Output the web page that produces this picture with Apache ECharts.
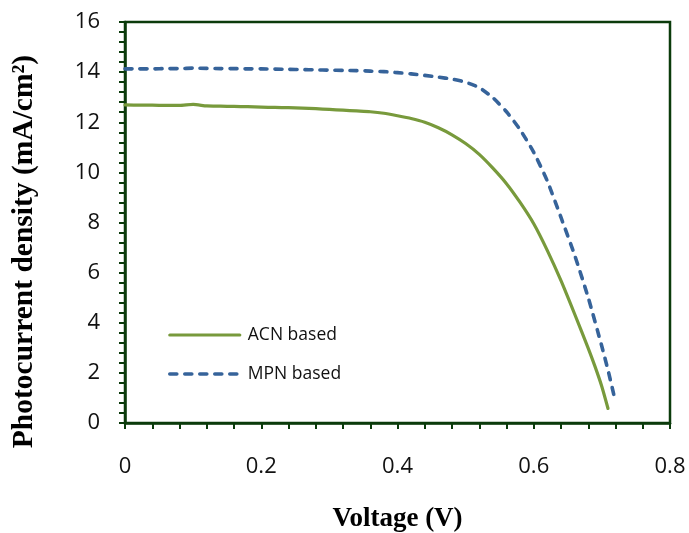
<!DOCTYPE html>
<html>
<head>
<meta charset="utf-8">
<script src="https://cdn.jsdelivr.net/npm/echarts@6/dist/echarts.min.js"></script>
<style>
  html, body { margin: 0; padding: 0; background: #fff; }
  #chart { width: 689px; height: 533px; }
</style>
</head>
<body>
<div id="chart"></div>
<script>
// J–V curves: voltage (V) vs photocurrent density (mA/cm²)
const acnVoltage = [0, 0.02, 0.04, 0.06, 0.08, 0.10, 0.12, 0.14, 0.16, 0.18, 0.20, 0.22, 0.24, 0.26, 0.28, 0.30, 0.32, 0.34, 0.36, 0.38, 0.40, 0.42, 0.44, 0.46, 0.48, 0.50, 0.52, 0.54, 0.56, 0.58, 0.60, 0.62, 0.64, 0.66, 0.68, 0.69, 0.70, 0.709];
const acnCurrent = [12.69, 12.68, 12.68, 12.67, 12.67, 12.71, 12.65, 12.64, 12.63, 12.62, 12.60, 12.59, 12.58, 12.56, 12.54, 12.51, 12.48, 12.45, 12.42, 12.36, 12.26, 12.15, 12.00, 11.78, 11.50, 11.15, 10.72, 10.17, 9.55, 8.80, 7.95, 6.88, 5.68, 4.35, 2.98, 2.25, 1.45, 0.58];

const mpnVoltage = [0, 0.02, 0.04, 0.06, 0.08, 0.10, 0.12, 0.14, 0.16, 0.18, 0.20, 0.22, 0.24, 0.26, 0.28, 0.30, 0.32, 0.34, 0.36, 0.38, 0.40, 0.42, 0.44, 0.46, 0.48, 0.50, 0.52, 0.54, 0.56, 0.58, 0.60, 0.62, 0.64, 0.66, 0.68, 0.70, 0.71, 0.72];
const mpnCurrent = [14.13, 14.13, 14.13, 14.14, 14.14, 14.16, 14.15, 14.14, 14.14, 14.13, 14.13, 14.12, 14.11, 14.10, 14.09, 14.08, 14.07, 14.06, 14.04, 14.02, 13.98, 13.93, 13.87, 13.80, 13.72, 13.60, 13.38, 12.98, 12.42, 11.70, 10.80, 9.65, 8.20, 6.70, 5.00, 3.05, 2.00, 0.84];

const seriesNames = ['ACN based', 'MPN based'];
const xTitle = 'Voltage (V)';
const yTitle = 'Photocurrent density (mA/cm²)';

const pair = (xs, ys) => xs.map((x, i) => [x, ys[i]]);

const axisColor = '#0b3b0b';
const acnColor = '#789a3c';
const mpnColor = '#36639a';
const labelFont = '"Open Sans", "Liberation Sans", sans-serif';
const titleFont = '"Liberation Serif", "Times New Roman", serif';

const acnLine = { color: acnColor, width: 3.2, cap: 'round', join: 'round' };
const mpnLine = { color: mpnColor, width: 3.6, type: [7, 8], cap: 'round', join: 'round' };

const chart = echarts.init(document.getElementById('chart'), null, { renderer: 'canvas' });

chart.setOption({
  animation: false,
  backgroundColor: '#ffffff',
  grid: {
    left: 125, right: 19, top: 22, bottom: 110,
    containLabel: false,
    outerBoundsMode: 'none',
    show: true,
    borderColor: axisColor,
    borderWidth: 2.5,
    backgroundColor: 'transparent'
  },
  legend: {
    orient: 'vertical',
    left: 168,
    top: 326,
    padding: 0,
    itemWidth: 70,
    itemHeight: 14,
    itemGap: 21,
    itemStyle: { opacity: 0 },
    textStyle: { fontFamily: labelFont, fontSize: 17.5, color: '#111', padding: [0, 0, 0, 3] },
    data: [
      { name: seriesNames[0], lineStyle: acnLine },
      { name: seriesNames[1], lineStyle: mpnLine }
    ]
  },
  xAxis: {
    type: 'value',
    min: 0, max: 0.8, interval: 0.2,
    name: xTitle,
    nameLocation: 'middle',
    nameGap: 83,
    nameTextStyle: { fontFamily: titleFont, fontWeight: 'bold', fontSize: 27, color: '#000' },
    axisLine: { show: true, lineStyle: { color: axisColor, width: 2.5 } },
    axisTick: { show: true, length: 6, lineStyle: { color: axisColor, width: 2 } },
    minorTick: { show: true, splitNumber: 5, length: 6, lineStyle: { color: axisColor, width: 2 } },
    splitLine: { show: false },
    axisLabel: { margin: 33, fontFamily: labelFont, fontSize: 22, color: '#111' }
  },
  yAxis: {
    type: 'value',
    min: 0, max: 16, interval: 2,
    name: yTitle,
    nameLocation: 'middle',
    nameGap: 86,
    nameRotate: 90,
    nameTextStyle: {
      fontFamily: titleFont, fontWeight: 'bold', fontSize: 29.5, color: '#000',
      padding: [0, 58, 0, 0]
    },
    axisLine: { show: true, lineStyle: { color: axisColor, width: 2.5 } },
    axisTick: { show: true, length: 6, lineStyle: { color: axisColor, width: 2 } },
    minorTick: { show: true, splitNumber: 5, length: 6, lineStyle: { color: axisColor, width: 2 } },
    splitLine: { show: false },
    axisLabel: { margin: 25, fontFamily: labelFont, fontSize: 22, color: '#111' }
  },
  series: [
    {
      name: seriesNames[0],
      type: 'line',
      data: pair(acnVoltage, acnCurrent),
      symbol: 'none',
      smooth: 0.2,
      lineStyle: acnLine,
      itemStyle: { color: acnColor }
    },
    {
      name: seriesNames[1],
      type: 'line',
      data: pair(mpnVoltage, mpnCurrent),
      symbol: 'none',
      smooth: 0.2,
      lineStyle: mpnLine,
      itemStyle: { color: mpnColor }
    }
  ]
});
</script>
</body>
</html>
